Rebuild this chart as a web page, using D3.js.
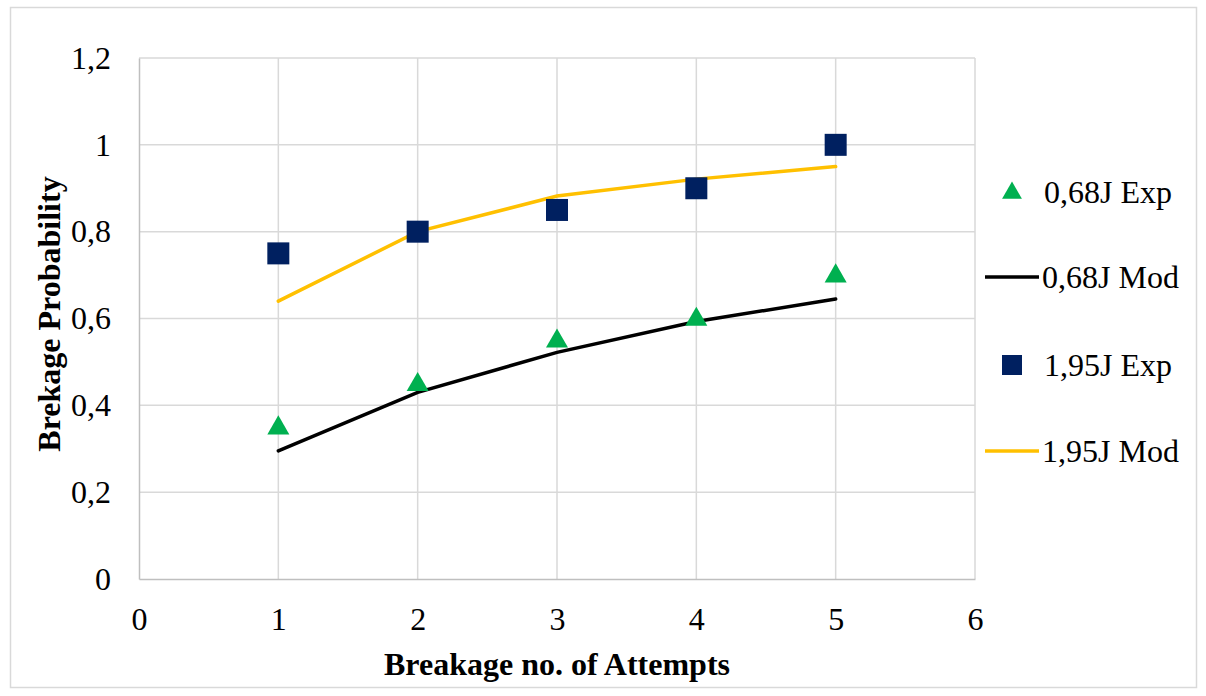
<!DOCTYPE html>
<html>
<head>
<meta charset="utf-8">
<script src="https://cdn.jsdelivr.net/npm/d3@7"></script>
<style>
  body { margin: 0; background: #fff; }
  svg text { font-family: "Liberation Serif", "Times New Roman", serif; fill: #000; }
</style>
</head>
<body>
<svg width="1206" height="696"></svg>
<script>
// data
const attempts = [1, 2, 3, 4, 5];
const exp068 = [0.35, 0.45, 0.55, 0.60, 0.70];
const mod068 = [0.295, 0.43, 0.522, 0.593, 0.645];
const exp195 = [0.75, 0.80, 0.85, 0.90, 1.00];
const mod195 = [0.64, 0.80, 0.882, 0.921, 0.95];
const xTicks = [0, 1, 2, 3, 4, 5, 6];
const yTicks = [0, 0.2, 0.4, 0.6, 0.8, 1, 1.2];
const legendNames = ['0,68J Exp', '0,68J Mod', '1,95J Exp', '1,95J Mod'];

const svg = d3.select('svg');
const FS = '32px';

// outer frame
svg.append('rect')
    .attr('x', 10.5).attr('y', 7.5)
    .attr('width', 1186).attr('height', 680)
    .attr('fill', 'none')
    .attr('stroke', '#d9d9d9')
    .attr('stroke-width', 1.5);

const x = d3.scaleLinear().domain([0, 6]).range([139, 975]);
const y = d3.scaleLinear().domain([0, 1.2]).range([579, 58]);
const fmt = d => String(+d.toFixed(1)).replace('.', ',');

// gridlines
svg.append('g')
    .selectAll('line.hgrid')
    .data(yTicks.filter(d => d > 0))
    .enter()
    .append('line')
    .attr('x1', x(0)).attr('x2', x(6))
    .attr('y1', d => y(d)).attr('y2', d => y(d))
    .attr('stroke', '#d9d9d9').attr('stroke-width', 1.5);

svg.append('g')
    .selectAll('line.vgrid')
    .data(xTicks.filter(d => d > 0))
    .enter()
    .append('line')
    .attr('x1', d => x(d)).attr('x2', d => x(d))
    .attr('y1', y(0)).attr('y2', y(1.2))
    .attr('stroke', '#d9d9d9').attr('stroke-width', 1.5);

// axes
const xAxis = svg.append('g')
    .attr('transform', `translate(0,${y(0)})`)
    .call(d3.axisBottom(x).tickValues(xTicks).tickSize(0).tickPadding(28).tickFormat(d => d));
const yAxis = svg.append('g')
    .attr('transform', `translate(${x(0)},0)`)
    .call(d3.axisLeft(y).tickValues(yTicks).tickSize(0).tickPadding(28).tickFormat(fmt));
[xAxis, yAxis].forEach(g => {
    g.select('.domain').attr('stroke', '#bfbfbf').attr('stroke-width', 1.5);
    g.selectAll('text').style('font-size', FS).style('font-family', '"Liberation Serif", serif');
});

// model lines
const line = d3.line().x((d, i) => x(attempts[i])).y(d => y(d));
svg.append('path').datum(mod068)
    .attr('d', line).attr('fill', 'none')
    .attr('stroke', '#000').attr('stroke-width', 3.5).attr('stroke-linecap', 'round');
svg.append('path').datum(mod195)
    .attr('d', line).attr('fill', 'none')
    .attr('stroke', '#ffc000').attr('stroke-width', 3.5).attr('stroke-linecap', 'round');

// experimental markers
const tri = d3.symbol().type(d3.symbolTriangle).size(210);
svg.append('g').selectAll('path')
    .data(exp068)
    .enter()
    .append('path')
    .attr('d', tri)
    .attr('transform', (d, i) => `translate(${x(attempts[i])},${y(d) + 1})`)
    .attr('fill', '#00b050');

svg.append('g').selectAll('rect')
    .data(exp195)
    .enter()
    .append('rect')
    .attr('x', (d, i) => x(attempts[i]) - 11)
    .attr('y', d => y(d) - 11)
    .attr('width', 22).attr('height', 22)
    .attr('fill', '#002060');

// axis titles
svg.append('text')
    .attr('x', 557).attr('y', 675)
    .attr('text-anchor', 'middle')
    .style('font-size', FS).style('font-weight', 'bold')
    .text('Breakage no. of Attempts');
svg.append('text')
    .attr('transform', 'translate(60,314)rotate(-90)')
    .attr('text-anchor', 'middle')
    .style('font-size', FS).style('font-weight', 'bold')
    .text('Brekage Probability');

// legend
const legendY = [192, 277, 365, 451];
const legend = svg.append('g');
legend.append('path')
    .attr('d', d3.symbol().type(d3.symbolTriangle).size(170))
    .attr('transform', `translate(1012,${legendY[0] + 1})`)
    .attr('fill', '#00b050');
legend.append('line')
    .attr('x1', 985).attr('x2', 1039)
    .attr('y1', legendY[1]).attr('y2', legendY[1])
    .attr('stroke', '#000').attr('stroke-width', 3.5);
legend.append('rect')
    .attr('x', 1002).attr('y', legendY[2] - 10)
    .attr('width', 20).attr('height', 20)
    .attr('fill', '#002060');
legend.append('line')
    .attr('x1', 985).attr('x2', 1039)
    .attr('y1', legendY[3]).attr('y2', legendY[3])
    .attr('stroke', '#ffc000').attr('stroke-width', 3.5);
legend.selectAll('text')
    .data(legendNames)
    .enter()
    .append('text')
    .attr('x', (d, i) => i % 2 === 0 ? 1044 : 1042)
    .attr('y', (d, i) => legendY[i] + 11)
    .style('font-size', FS)
    .text(d => d);
</script>
</body>
</html>
